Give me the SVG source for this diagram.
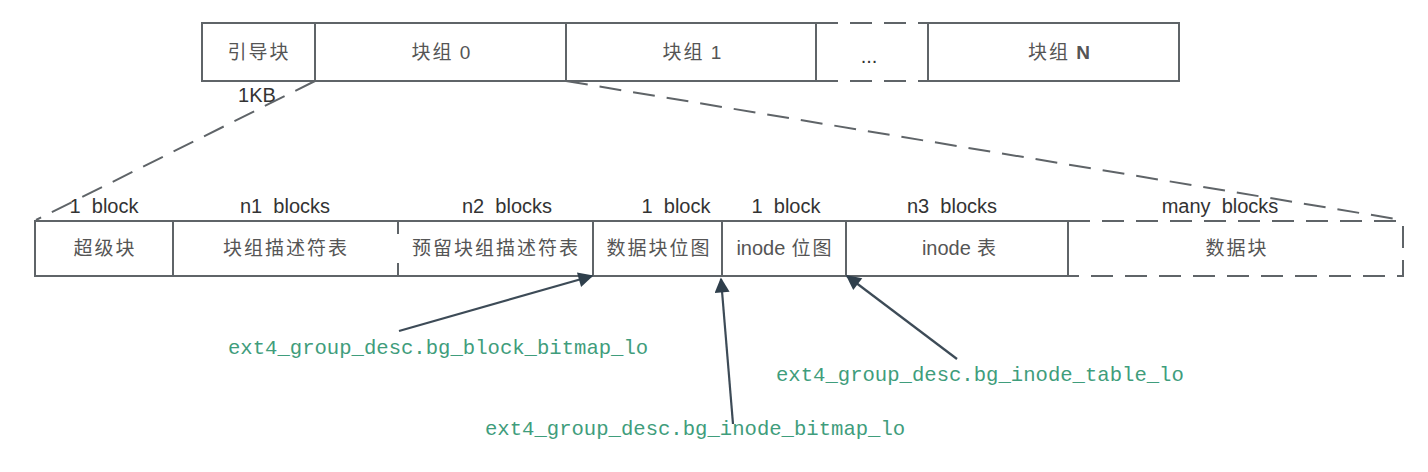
<svg xmlns="http://www.w3.org/2000/svg" width="1428" height="472" viewBox="0 0 1428 472">
<defs>
<style>
.box{fill:#fff;stroke:#5f6468;stroke-width:2}
.ln{fill:none;stroke:#5f6468;stroke-width:2}
.dash{fill:none;stroke:#5f6468;stroke-width:2;stroke-dasharray:22 12}
.cjk{font-family:"Noto Sans CJK SC","Liberation Sans",sans-serif;font-size:19px;letter-spacing:2px;fill:#555;text-anchor:middle}
.lbl{font-family:"Liberation Sans",Arial,sans-serif;font-size:20px;fill:#333;text-anchor:middle;white-space:pre}
.code{font-family:"Liberation Mono","DejaVu Sans Mono",monospace;font-size:20.6px;fill:#3f9d7c}
.arr{fill:none;stroke:#3d4b57;stroke-width:2.2}
.lat{font-family:"Liberation Sans",Arial,sans-serif;letter-spacing:0}
</style>
<marker id="ahb" viewBox="0 0 10 10" refX="9" refY="5" markerWidth="22" markerHeight="15" markerUnits="userSpaceOnUse" orient="auto">
<path d="M0,0 L10,5 L0,10 z" fill="#2f3f4c"/>
</marker>
</defs>

<g id="top-row">
<g id="boot"><rect class="box" x="202" y="23" width="113" height="58"/><text class="cjk" x="259" y="59">引导块</text></g>
<g id="bg0"><rect class="box" x="315" y="23" width="251" height="58"/><text class="cjk" x="441" y="59">块组 <tspan class="lat">0</tspan></text></g>
<g id="bg1"><rect class="box" x="566" y="23" width="250" height="58"/><text class="cjk" x="692" y="59">块组 <tspan class="lat">1</tspan></text></g>
<g id="dots"><path class="dash" d="M816,23 H928 M816,81 H928" stroke-dasharray="18 10"/><text class="lbl" x="869" y="63" fill="#666">...</text></g>
<g id="bgN"><rect class="box" x="928" y="23" width="251" height="58"/><text class="cjk" x="1059" y="59">块组 <tspan class="lat" font-weight="bold">N</tspan></text></g>
<text id="kb" class="lbl" x="257" y="102" font-size="18">1KB</text>
</g>

<g id="bottom-row">
<g id="sb"><rect class="box" x="35" y="221" width="138" height="55"/><text class="cjk" x="105" y="255">超级块</text><text class="lbl" x="104" y="213">1  block</text></g>
<g id="gdt"><path class="ln" d="M398,221 H173 V276 H398"/><text class="cjk" x="286" y="255">块组描述符表</text><text class="lbl" x="285" y="213">n1  blocks</text></g>
<g id="rgdt"><path class="ln" d="M398,221 H593 V276 H398"/><path class="ln" d="M398,221 V234 M398,263 V276"/><text class="cjk" x="496" y="255">预留块组描述符表</text><text class="lbl" x="507" y="213">n2  blocks</text></g>
<g id="bbmp"><rect class="box" x="593" y="221" width="129" height="55"/><text class="cjk" x="659" y="255">数据块位图</text><text class="lbl" x="676" y="213">1  block</text></g>
<g id="ibmp"><rect class="box" x="722" y="221" width="124" height="55"/><text class="cjk" x="785" y="255"><tspan class="lat" font-size="20">inode</tspan> 位图</text><text class="lbl" x="786" y="213">1  block</text></g>
<g id="itab"><rect class="box" x="846" y="221" width="222" height="55"/><text class="cjk" x="960" y="255"><tspan class="lat" font-size="20">inode</tspan> 表</text><text class="lbl" x="952" y="213">n3  blocks</text></g>
<g id="data"><path class="dash" d="M1068,221 H1403 V276 H1068" stroke-dasharray="16 9"/><text class="cjk" x="1237" y="255">数据块</text><text class="lbl" x="1220" y="213">many  blocks</text></g>
</g>

<g id="connectors">
<path class="dash" d="M315,81 L36,220" stroke-dasharray="20 12"/>
<path class="dash" d="M566,81 L1396,219" stroke-dasharray="20 12"/>
<path class="arr" d="M399,331 L592,276" marker-end="url(#ahb)"/>
<path class="arr" d="M733,424 L721,279" marker-end="url(#ahb)"/>
<path class="arr" d="M957,359 L847,276" marker-end="url(#ahb)"/>
</g>

<g id="labels">
<text class="code" x="228" y="354">ext4_group_desc.bg_block_bitmap_lo</text>
<text class="code" x="776" y="381">ext4_group_desc.bg_inode_table_lo</text>
<text class="code" x="485" y="435">ext4_group_desc.bg_inode_bitmap_lo</text>
</g>
</svg>
